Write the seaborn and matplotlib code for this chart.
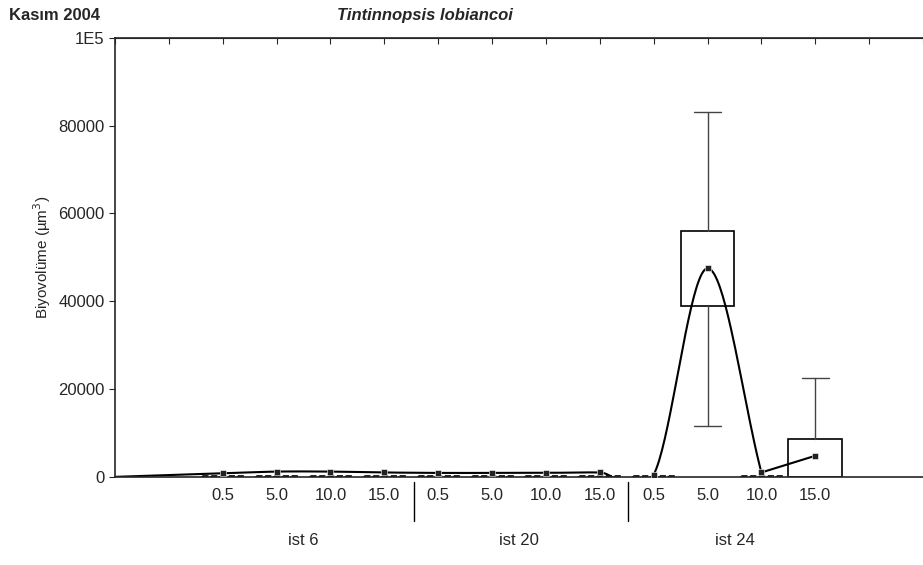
import numpy as np
import pandas as pd
import matplotlib
matplotlib.use("Agg")
import matplotlib.pyplot as plt
from matplotlib.patches import Rectangle
import seaborn as sns

depths = ["0.5", "5.0", "10.0", "15.0"] * 3
stations = ["ist 6", "ist 20", "ist 24"]
means = [800, 1200, 1200, 1000, 900, 900, 900, 1000, 500, 47500, 1000, 4800]
box_lo = [0, 0, 0, 0, 0, 0, 0, 0, 0, 39000, 0, 0]
box_hi = [300, 300, 300, 300, 300, 300, 300, 300, 300, 56000, 300, 8700]
wsk_lo = [0, 0, 0, 0, 0, 0, 0, 0, 0, 11500, 0, 0]
wsk_hi = [300, 300, 300, 300, 300, 300, 300, 300, 300, 83000, 300, 22500]

sns.set_style("white")
plt.rcParams['font.family'] = ['Liberation Sans', 'DejaVu Sans']
fig = plt.figure(figsize=(9.23, 5.65), dpi=100)
ax = fig.add_axes([0.1246, 0.156, 0.8754, 0.777])

x = np.arange(len(means))
df = pd.DataFrame({"x": x, "mean": means})

# boxes and whiskers
for i in x:
    big = box_hi[i] - box_lo[i] > 1000
    w = 1.0 if big else 0.8
    ax.add_patch(Rectangle((i - w / 2, box_lo[i]), w, box_hi[i] - box_lo[i],
                           fill=False, ec="black", lw=1.2, ls="-" if big else "--"))
    if wsk_hi[i] > box_hi[i] + 1000:
        ax.plot([i, i], [box_hi[i], wsk_hi[i]], color="#444", lw=1)
        ax.plot([i - 0.25, i + 0.25], [wsk_hi[i]] * 2, color="#444", lw=1)
    if box_lo[i] - wsk_lo[i] > 1000:
        ax.plot([i, i], [wsk_lo[i], box_lo[i]], color="#444", lw=1)
        ax.plot([i - 0.25, i + 0.25], [wsk_lo[i]] * 2, color="#444", lw=1)

# smooth curve through means (Catmull-Rom), last segment straight
px = np.concatenate([[-2], x[:-1]]).astype(float)
py = np.concatenate([[0], means[:-1]]).astype(float)
n = len(px)
m = np.zeros(n)
for k in range(n):
    if k == 0:
        m[k] = (py[1] - py[0]) / (px[1] - px[0])
    elif k == n - 1:
        m[k] = (py[k] - py[k - 1]) / (px[k] - px[k - 1])
    else:
        m[k] = (py[k + 1] - py[k - 1]) / (px[k + 1] - px[k - 1])
xs, ys = [], []
for k in range(n - 1):
    hk = px[k + 1] - px[k]
    t = np.linspace(0, 1, 40)
    h00 = 2 * t**3 - 3 * t**2 + 1; h10 = t**3 - 2 * t**2 + t
    h01 = -2 * t**3 + 3 * t**2; h11 = t**3 - t**2
    xs.extend(px[k] + t * hk)
    ys.extend(h00 * py[k] + h10 * hk * m[k] + h01 * py[k + 1] + h11 * hk * m[k + 1])
ax.plot(xs, ys, color="black", lw=1.5)
ax.plot(x[-2:], means[-2:], color="black", lw=1.5)
sns.scatterplot(data=df, x="x", y="mean", marker="s", color="#222", s=25, ax=ax, zorder=5)

ax.set_xlim(-2, 13)
ax.set_ylim(0, 100000)
ax.set_yticks([0, 20000, 40000, 60000, 80000, 100000])
ax.set_yticklabels(["0", "20000", "40000", "60000", "80000", "1E5"], fontsize=12)
ax.set_xticks(x)
ax.set_xticklabels(depths, fontsize=12)
ax.tick_params(axis="x", length=0, pad=8)
ax.tick_params(axis="y", direction="out", length=4, left=True)
ax.set_xlabel(""); ax.set_ylabel("Biyovolüme (µm$^3$)", fontsize=11)
sec = ax.secondary_xaxis("top")
sec.set_xticks(np.arange(-2, 14))
sec.set_xticklabels([])
sec.tick_params(direction="in", length=4)
ax.spines["right"].set_visible(False)
for s in ["left", "bottom", "top"]:
    ax.spines[s].set_linewidth(1.2)
for sx in [3.55, 7.53]:
    ax.plot([sx, sx], [-0.012, -0.1], transform=ax.get_xaxis_transform(), color="black", lw=1, clip_on=False)
for j, st in enumerate(stations):
    ax.text(1.5 + 4 * j, -0.145, st, transform=ax.get_xaxis_transform(), ha="center", va="center", fontsize=12)

fig.text(0.01, 0.985, "Kasım 2004", fontsize=12, fontweight="bold", va="top")
fig.text(0.46, 0.985, "Tintinnopsis lobiancoi", fontsize=12, fontweight="bold", style="italic", va="top", ha="center")
fig.savefig("out.png", dpi=100)
